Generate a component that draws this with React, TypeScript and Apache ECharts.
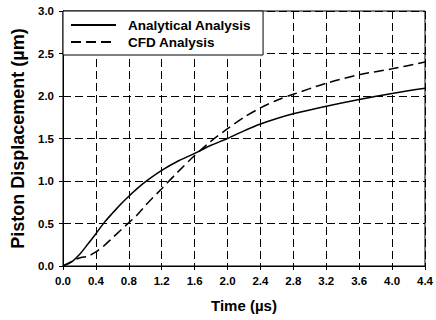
import React, { useEffect, useRef } from "react";
import * as echarts from "echarts";

const timeUs = [0, 0.1, 0.2, 0.3, 0.4, 0.5, 0.6, 0.7, 0.8, 0.9, 1.0, 1.2, 1.4, 1.6, 1.8, 2.0, 2.2, 2.4, 2.6, 2.8, 3.2, 3.6, 4.0, 4.4];
const analytical = [0, 0.045, 0.135, 0.255, 0.38, 0.51, 0.62, 0.725, 0.82, 0.91, 0.99, 1.125, 1.235, 1.325, 1.42, 1.5, 1.59, 1.67, 1.735, 1.79, 1.88, 1.96, 2.03, 2.09];
const cfd = [0, 0.05, 0.095, 0.115, 0.165, 0.24, 0.33, 0.42, 0.51, 0.6, 0.71, 0.91, 1.11, 1.3, 1.47, 1.615, 1.75, 1.86, 1.95, 2.02, 2.15, 2.25, 2.32, 2.4];
const seriesNames = ["Analytical Analysis", "CFD Analysis"];
const xTitle = "Time (µs)";
const yTitle = "Piston Displacement (µm)";

const FONT = "Liberation Sans, Arial, sans-serif";

export default function App() {
  const ref = useRef<HTMLDivElement>(null);
  useEffect(() => {
    if (!ref.current) return;
    const chart = echarts.init(ref.current, undefined, { renderer: "svg" });
    const pairs = (ys: number[]) => timeUs.map((t, i) => [t, ys[i]]);
    chart.setOption({
      animation: false,
      backgroundColor: "#fff",
      grid: { left: 63, right: 7, top: 11, bottom: 54, show: true, borderColor: "#000", borderWidth: 1 },
      legend: {
        data: seriesNames,
        orient: "vertical",
        left: 63,
        top: 11,
        padding: [7, 12, 6, 7],
        itemWidth: 45,
        itemHeight: 10,
        itemGap: 3,
        backgroundColor: "#fff",
        borderColor: "#000",
        borderWidth: 1,
        borderRadius: 0,
        z: 10,
        selectedMode: false,
        itemStyle: { color: "rgba(0,0,0,0)", borderColor: "rgba(0,0,0,0)", borderWidth: 0, opacity: 0 },
        textStyle: { fontFamily: FONT, fontWeight: "bold", fontSize: 13.5, color: "#000", padding: [0, 0, 0, 7] },
      },
      xAxis: {
        type: "value",
        min: 0,
        max: 4.4,
        interval: 0.4,
        name: xTitle,
        nameLocation: "middle",
        nameGap: 32,
        nameTextStyle: { fontFamily: FONT, fontWeight: "bold", fontSize: 15, color: "#000" },
        axisLine: { show: true, lineStyle: { color: "#000", width: 1 } },
        axisTick: { show: true, length: 4, inside: false, lineStyle: { color: "#000" } },
        axisLabel: {
          fontFamily: FONT, fontWeight: "bold", fontSize: 11.5, color: "#000", margin: 9,
          formatter: (v: number) => v.toFixed(1),
        },
        splitLine: { show: true, lineStyle: { color: "#000", type: [8, 4], width: 1 } },
      },
      yAxis: {
        type: "value",
        min: 0,
        max: 3,
        interval: 0.5,
        name: yTitle,
        nameLocation: "middle",
        nameGap: 36,
        nameTextStyle: { fontFamily: FONT, fontWeight: "bold", fontSize: 18, color: "#000" },
        axisLine: { show: true, lineStyle: { color: "#000", width: 1 } },
        axisTick: { show: true, length: 4, inside: false, lineStyle: { color: "#000" } },
        axisLabel: {
          fontFamily: FONT, fontWeight: "bold", fontSize: 11.5, color: "#000", margin: 9,
          formatter: (v: number) => v.toFixed(1),
        },
        splitLine: { show: true, lineStyle: { color: "#000", type: [8, 4], width: 1 } },
      },
      series: [
        {
          name: seriesNames[0],
          type: "line",
          data: pairs(analytical),
          smooth: 0.3,
          symbol: "none",
          color: "#000",
          lineStyle: { color: "#000", width: 1.5, type: "solid" },
          z: 5,
        },
        {
          name: seriesNames[1],
          type: "line",
          data: pairs(cfd),
          smooth: 0.3,
          symbol: "none",
          color: "#000",
          lineStyle: { color: "#000", width: 1.5, type: [10, 5] },
          z: 5,
        },
      ],
    });
    return () => chart.dispose();
  }, []);
  return <div ref={ref} style={{ position: "fixed", left: 0, top: 0, width: 436, height: 320 }} />;
}
